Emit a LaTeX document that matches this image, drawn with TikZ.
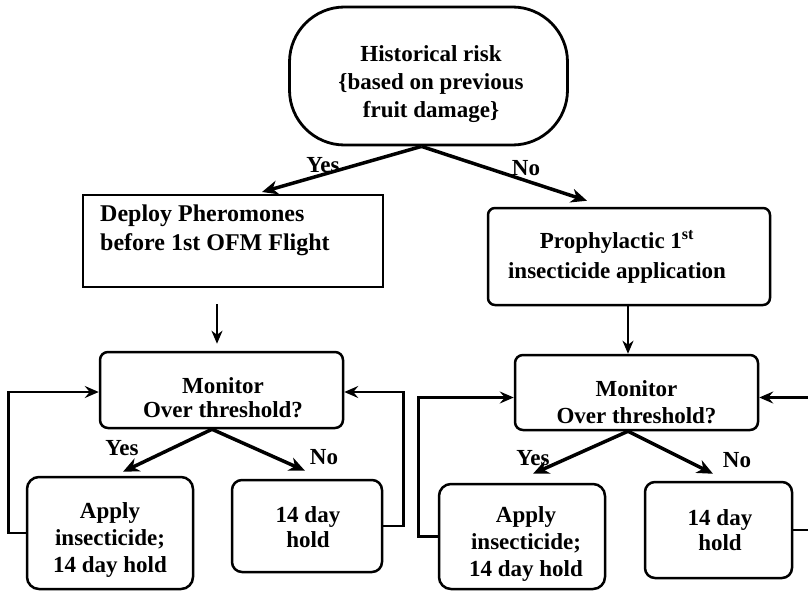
\documentclass[tikz,border=0pt]{standalone}
\usepackage{fontspec}
\setmainfont{Liberation Serif}
\usetikzlibrary{arrows.meta}

\begin{document}
\begin{tikzpicture}[x=1pt,y=-1pt,
  box/.style={draw, line width=2.5pt, rounded corners=8pt, inner sep=0pt},
  sqbox/.style={draw, line width=2pt, inner sep=0pt},
  txt/.style={font=\fontsize{23}{28}\selectfont\bfseries, align=center, inner sep=0pt},
  lab/.style={font=\fontsize{23}{28}\selectfont\bfseries, inner sep=0pt},
  fork/.style={line width=3.5pt, -{Stealth[length=16pt,width=14pt,inset=5pt]}},
  drop/.style={line width=2pt, -{Stealth[length=13pt,width=11pt,inset=4pt]}},
  loopback/.style={line width=2.8pt, -{Stealth[length=14pt,width=12pt,inset=5pt]}}]
\useasboundingbox (0,0) rectangle (808,591);
\fill[white] (0,0) rectangle (808,591);
%
\node[box, rounded corners=55pt, line width=2.8pt, minimum width=278, minimum height=138] (hist) at (428.5,76) {};
\node[txt] (histtxt) at (431,84.5) {Historical risk\\\{based on previous\\fruit damage\}};
\node[sqbox, minimum width=300, minimum height=92] (deploy) at (233,241) {};
\node[txt, font=\fontsize{24}{29}\selectfont\bfseries, align=left, anchor=west] (deploytxt) at (100,230.5) {Deploy Pheromones\\before 1st OFM Flight};
\node[box, rounded corners=7pt, minimum width=282, minimum height=97] (proph) at (629,256.5) {};
\node[txt, font=\fontsize{23}{30}\selectfont\bfseries] (prophtxt) at (617,257) {Prophylactic 1\textsuperscript{st}\\insecticide application};
%
\node[box, minimum width=243, minimum height=76] (monL) at (221.5,390) {};
\node[txt, font=\fontsize{23}{24}\selectfont\bfseries] (monLtxt) at (223,398) {Monitor\\Over threshold?};
\node[box, rounded corners=12pt, minimum width=166, minimum height=112] (applyL) at (110,533) {};
\node[txt, font=\fontsize{23}{27}\selectfont\bfseries] (applyLtxt) at (110,540) {Apply\\insecticide;\\14 day hold};
\node[box, rounded corners=10pt, minimum width=150, minimum height=92] (holdL) at (307,526) {};
\node[txt, font=\fontsize{23}{25}\selectfont\bfseries] (holdLtxt) at (308,527.5) {14 day\\hold};
%
\node[box, minimum width=243, minimum height=75] (monR) at (636.5,392.5) {};
\node[txt, font=\fontsize{23}{27}\selectfont\bfseries] (monRtxt) at (636.5,402) {Monitor\\Over threshold?};
\node[box, rounded corners=12pt, minimum width=166, minimum height=105] (applyR) at (522,536.5) {};
\node[txt, font=\fontsize{23}{27}\selectfont\bfseries] (applyRtxt) at (526,544) {Apply\\insecticide;\\14 day hold};
\node[box, rounded corners=10pt, minimum width=147, minimum height=96] (holdR) at (718.5,530) {};
\node[txt, font=\fontsize{23}{25}\selectfont\bfseries] (holdRtxt) at (720,530.5) {14 day\\hold};
%
\draw[fork] ([xshift=-7]hist.south) -- ([xshift=29,yshift=2]deploy.north);
\draw[fork] ([xshift=-7]hist.south) -- ([xshift=-42,yshift=6]proph.north);
\node[lab] (yes0) at (323,165) {Yes};
\node[lab] (no0) at (526,168) {No};
%
\draw[drop] ([xshift=-16,yshift=-16]deploy.south) -- ([xshift=-4.5,yshift=7]monL.north);
\draw[drop] ([xshift=-1]proph.south) -- ([xshift=-1]proph.south |- monR.north);
%
\draw[fork] ([xshift=-9.5]monL.south) -- ([xshift=13,yshift=4]applyL.north);
\draw[fork] ([xshift=-9.5]monL.south) -- ([xshift=-2,yshift=8]holdL.north);
\node[lab] (yesL) at (122,448) {Yes};
\node[lab] (noL) at (324,457) {No};
\draw[fork] ([xshift=-8.5]monR.south) -- ([xshift=11,yshift=9]applyR.north);
\draw[fork] ([xshift=-8.5]monR.south) -- ([xshift=-5.5,yshift=7]holdR.north);
\node[lab] (yesR) at (533,458) {Yes};
\node[lab] (noR) at (737,460) {No};
%
\draw[loopback] (applyL.west) -- ++(-17,0) |- ([yshift=-2]monL.west);
\draw[loopback] (holdL.east) -- ++(20,0) |- ([yshift=-2]monL.east);
\draw[loopback] (applyR.west) -- ++(-19,0) |- ([yshift=-5]monR.west);
\draw[loopback] (holdR.east) -- ++(24,0) |- ([yshift=-5]monR.east);
\end{tikzpicture}
\end{document}
